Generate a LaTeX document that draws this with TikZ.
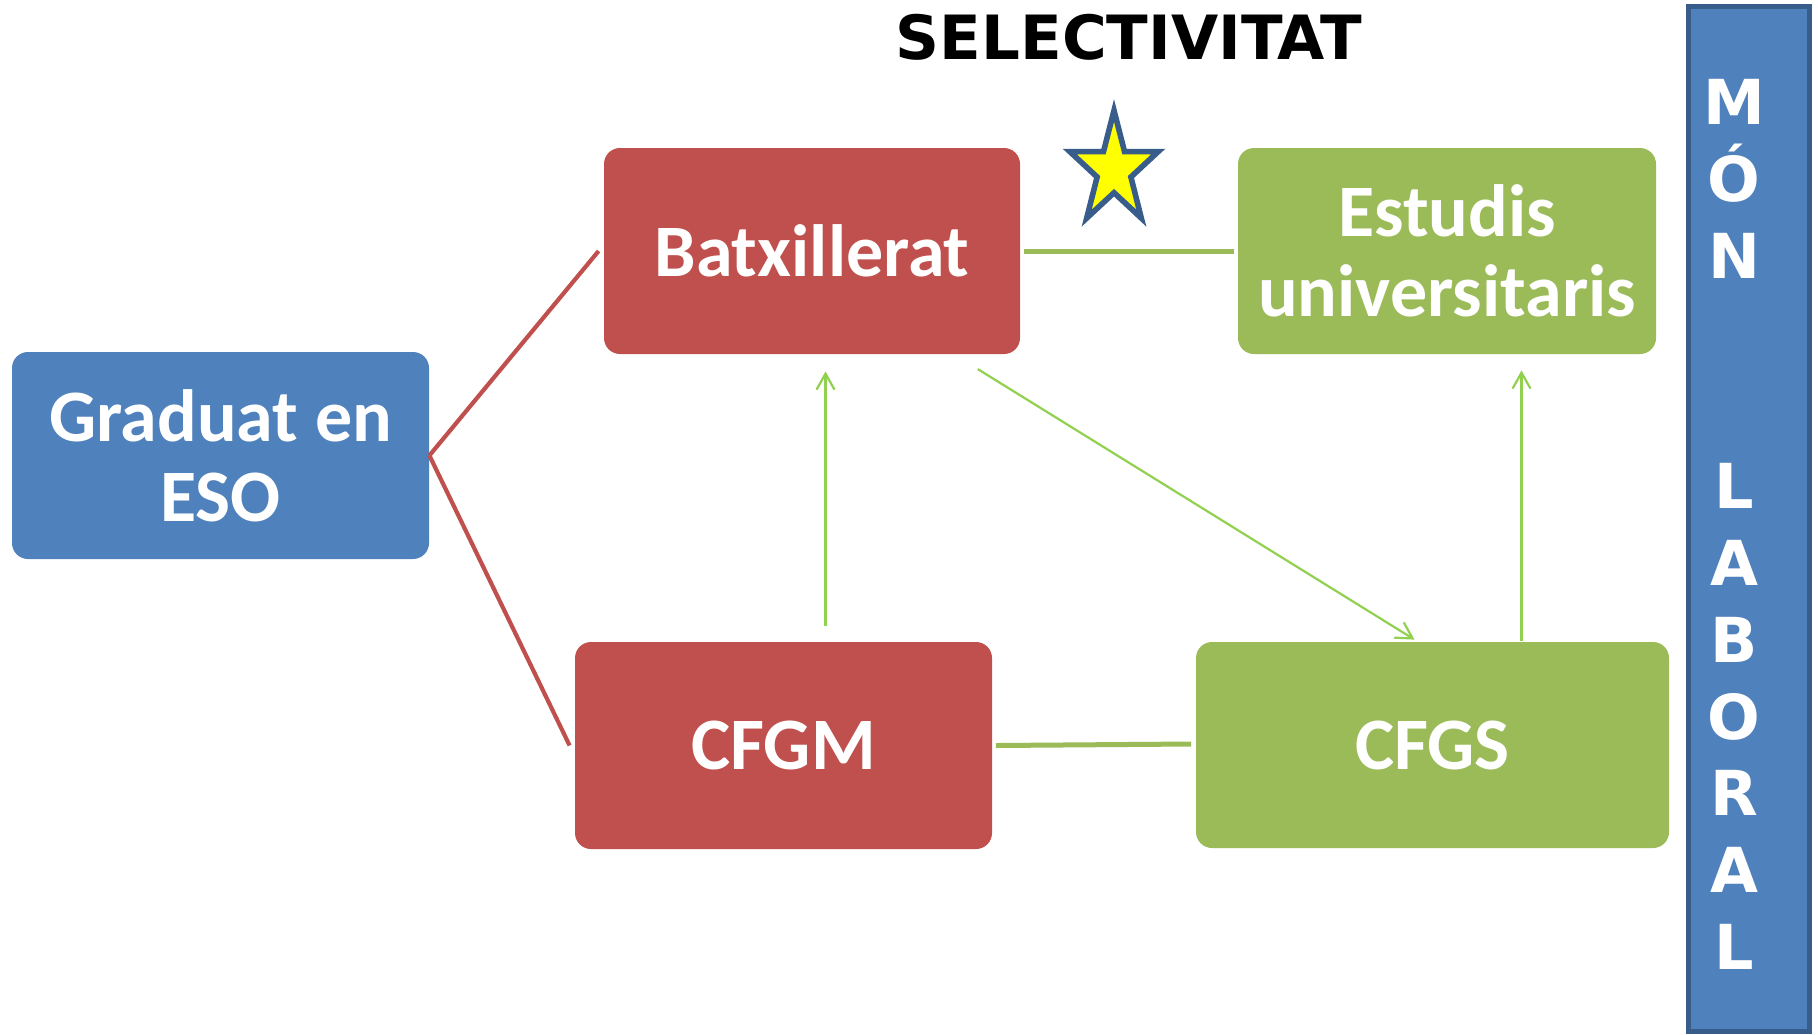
\documentclass[tikz,border=0pt]{standalone}
\usepackage{fontspec}
\setmainfont{Carlito}
\newfontfamily\djv{DejaVu Sans}
\usetikzlibrary{arrows.meta,calc}
\definecolor{cblue}{HTML}{4F81BD}
\definecolor{cred}{HTML}{C0504D}
\definecolor{cgreen}{HTML}{9BBB59}
\definecolor{clgreen}{HTML}{92D050}
\definecolor{cdark}{HTML}{385D8A}
\definecolor{cyellow}{HTML}{FFFF00}
\tikzset{
  box/.style={rectangle, rounded corners=8pt, inner sep=0pt, text=white, align=center,
    font=\bfseries\fontsize{37}{40}\selectfont},
  boxB/.style={box, fill=cblue},
  boxR/.style={box, fill=cred},
  boxG/.style={box, fill=cgreen},
  redline/.style={draw=cred, line width=2.1pt},
  thickgreen/.style={draw=cgreen, line width=2.5pt},
  thinarrow/.style={draw=clgreen, line width=1.1pt, -{Straight Barb[length=8pt,width=9pt]}},
  barstyle/.style={rectangle, fill=cblue, draw=cdark, line width=2.4pt, inner sep=0pt},
  starstyle/.style={fill=cyellow, draw=cdark, line width=2.8pt, line join=miter},
}
\begin{document}
\begin{tikzpicture}[x=0.5pt, y=-0.5pt]
\useasboundingbox (0,0) rectangle (1818,1034);

% title
\node[anchor=base, inner sep=0pt, font=\djv\bfseries\fontsize{30.5}{32}\selectfont] (sel) at (1129,59) {SELECTIVITAT};

% star
\coordinate (starc) at (1114,170);
\draw[starstyle] ([shift={(0,-59.5)}]starc) -- ([shift={(10.5,-18.4)}]starc) -- ([shift={(44.2,-18.4)}]starc)
  -- ([shift={(16.9,7.0)}]starc) -- ([shift={(27.3,48.1)}]starc) -- ([shift={(0,22.7)}]starc)
  -- ([shift={(-27.3,48.1)}]starc) -- ([shift={(-16.9,7.0)}]starc) -- ([shift={(-44.2,-18.4)}]starc)
  -- ([shift={(-10.5,-18.4)}]starc) -- cycle;

% boxes
\node[boxB, minimum width=208.5pt, minimum height=103.5pt] (grad) at (220.5,455.5) {Graduat en\\ESO};
\node[boxR, minimum width=208pt, minimum height=103pt] (batx) at (812,251) {Batxillerat};
\node[boxG, minimum width=209pt, minimum height=103pt] (estud) at (1447,251) {Estudis\\universitaris};
\node[boxR, minimum width=208.5pt, minimum height=103.5pt] (cfgm) at (783.5,745.5) {CFGM};
\node[boxG, minimum width=236.5pt, minimum height=103pt] (cfgs) at (1432.5,745) {CFGS};

% side bar
\node[barstyle, minimum width=60.5pt, minimum height=512.5pt] (bar) at (1749,519) {};
\node[anchor=north, inner sep=0pt, align=center, text=white,
  font=\djv\bfseries\fontsize{31}{38.4}\selectfont] (mon) at (1734,79)
  {M\\Ó\\N\\~\\~\\L\\A\\B\\O\\R\\A\\L};

% connectors
\draw[redline] (grad.east) -- ([shift={(-5,0)}]batx.west);
\draw[redline] (grad.east) -- ([shift={(-5,0)}]cfgm.west);
\draw[thickgreen] ([shift={(4,0)}]batx.east) -- ([shift={(-4,0)}]estud.west);
\draw[thickgreen] ([shift={(3.5,0)}]cfgm.east) -- ([shift={(-4.5,-1)}]cfgs.west);

\coordinate (a1s) at ([shift={(42,-16)}]cfgm.north);
\draw[thinarrow] (a1s) -- ($(a1s |- batx.south)+(0,17)$);
\draw[thinarrow] ([shift={(-42.6,14.7)}]batx.south east) -- ([shift={(-18,-2)}]cfgs.north);
\coordinate (a3s) at ([shift={(89,-1)}]cfgs.north);
\draw[thinarrow] (a3s) -- ($(a3s |- estud.south)+(0,16)$);
\end{tikzpicture}
\end{document}
